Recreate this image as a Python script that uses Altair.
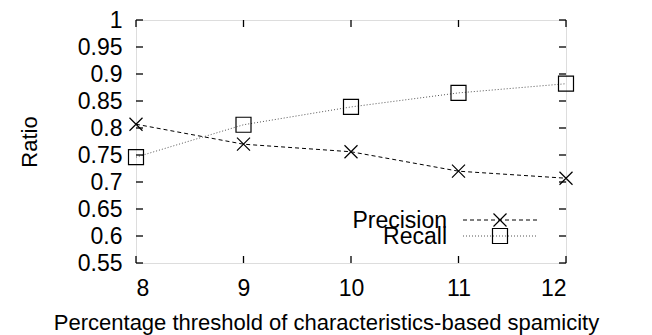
import altair as alt
import pandas as pd

thresholds = [8, 9, 10, 11, 12]
precision = [0.807, 0.770, 0.756, 0.720, 0.707]
recall = [0.746, 0.806, 0.839, 0.865, 0.882]
series_names = ["Precision", "Recall"]
y_ticks = [0.55, 0.6, 0.65, 0.7, 0.75, 0.8, 0.85, 0.9, 0.95, 1.0]
x_ticks = [8, 9, 10, 11, 12]

FONT = "Liberation Sans"
FS = 23
W, H = 430, 243
XMARK = "M-1,-1L1,1M-1,1L1,-1"

df_p = pd.DataFrame({"x": thresholds, "y": precision, "s": series_names[0]})
df_r = pd.DataFrame({"x": thresholds, "y": recall, "s": series_names[1]})
df_yt = pd.DataFrame({"x": y_ticks})
df_xt = pd.DataFrame({"x": x_ticks})
df_yt = pd.DataFrame({"y": y_ticks})

xs = alt.Scale(domain=[8, 12], nice=False)
ys = alt.Scale(domain=[0.55, 1.0], nice=False, zero=False)

XT = "Percentage threshold of characteristics-based spamicity"
YT = "Ratio"

xax = alt.Axis(values=x_ticks, ticks=False, domain=False, grid=False, labelFont=FONT,
               labelFontSize=FS, labelColor="black", labelPadding=32, labelBaseline="alphabetic",
               labelOverlap=False, format="d", title=XT,
               titleFont=FONT, titleFontSize=22, titleFontWeight="normal",
               titleColor="black", titleX=190, titleY=66, titleAlign="center",
               titleBaseline="alphabetic", titleAnchor="start")
yax = alt.Axis(values=y_ticks, ticks=False, domain=False, grid=False, labelFont=FONT,
               labelFontSize=FS, labelColor="black", labelPadding=14, format=".2~f",
               labelOverlap=False, title=YT,
               titleFont=FONT, titleFontSize=22, titleFontWeight="normal",
               titleColor="black", titleX=-100, titleY=H / 2, titleAngle=-90,
               titleAlign="center", titleBaseline="alphabetic", titleAnchor="start")


def X(field="x"):
    return alt.X(f"{field}:Q", scale=xs, axis=xax, title=XT)


def Y(field="y"):
    return alt.Y(f"{field}:Q", scale=ys, axis=yax, title=YT)


line_p = alt.Chart(df_p).mark_line(color="black", strokeWidth=1, strokeDash=[4, 3]).encode(x=X(), y=Y())
pt_p = alt.Chart(df_p).mark_point(shape=XMARK, size=169, color="black", strokeWidth=1.2,
                                  filled=False, opacity=1).encode(x=X(), y=Y())
line_r = alt.Chart(df_r).mark_line(color="#555555", strokeWidth=1, strokeDash=[1, 2]).encode(x=X(), y=Y())
pt_r = alt.Chart(df_r).mark_point(shape="square", size=225, color="black", strokeWidth=1.2,
                                  filled=False, opacity=1).encode(x=X(), y=Y())

ytl = alt.Chart(df_yt).mark_rule(color="black", strokeWidth=1.3).encode(
    y=Y(), x=alt.value(0), x2=alt.value(7))
ytr = alt.Chart(df_yt).mark_rule(color="black", strokeWidth=1.3).encode(
    y=Y(), x=alt.value(W), x2=alt.value(W - 7))
xtb = alt.Chart(df_xt).mark_rule(color="black", strokeWidth=1.3).encode(
    x=X(), y=alt.value(H), y2=alt.value(H - 7))
xtt = alt.Chart(df_xt).mark_rule(color="black", strokeWidth=1.3).encode(
    x=X(), y=alt.value(0), y2=alt.value(7))

leg = []
for i, (name, dash, col, shape, size) in enumerate([
        (series_names[0], [4, 3], "black", XMARK, 169),
        (series_names[1], [1, 2], "#555555", "square", 225)]):
    ly = 200 + 16 * i
    d = pd.DataFrame({"s": [name]})
    leg.append(alt.Chart(d).mark_text(font=FONT, fontSize=FS, align="right", baseline="alphabetic",
                                      color="black").encode(text="s:N", x=alt.value(311), y=alt.value(ly + 8)))
    leg.append(alt.Chart(d).mark_rule(color=col, strokeWidth=1, strokeDash=dash).encode(
        x=alt.value(327), x2=alt.value(401), y=alt.value(ly)))
    leg.append(alt.Chart(d).mark_point(shape=shape, size=size, color="black", strokeWidth=1.2,
                                       filled=False, opacity=1).encode(x=alt.value(364), y=alt.value(ly)))

chart = alt.layer(line_p, line_r, pt_p, pt_r, ytl, ytr, xtb, xtt, *leg).properties(
    width=W, height=H,
    autosize=alt.AutoSizeParams(type="none"),
    padding={"left": 128, "top": 12, "right": 70, "bottom": 72},
).configure_view(stroke="black", strokeWidth=1.5).configure(background="white")

chart.save("out.html", embed_options={"renderer": "svg", "actions": False})
